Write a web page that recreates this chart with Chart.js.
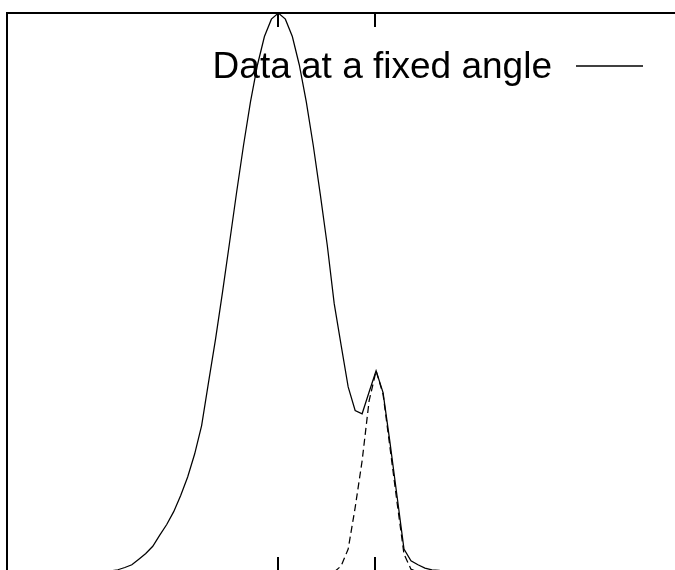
<!DOCTYPE html>
<html lang="en">
<head>
    <meta charset="UTF-8">
    <title>Data at a fixed angle</title>
    <script src="https://cdn.jsdelivr.net/npm/chart.js@4.4.0/dist/chart.umd.min.js"></script>
    <style>
        html, body {
            margin: 0;
            padding: 0;
            background: white;
            overflow: hidden;
        }

        .chart-box {
            position: relative;
            width: 700px;
            height: 590px;
        }
    </style>
</head>
<body>
    <div class="chart-box">
        <canvas id="scanChart"></canvas>
    </div>

    <script>
        // scan angle (deg)
        const angles = [
            21.28, 22.00, 22.72, 23.44, 24.16, 24.88, 25.60, 26.32, 27.04, 27.76,
            28.48, 29.20, 29.92, 30.64, 31.36, 32.08, 32.80, 33.52, 34.24, 34.96,
            35.68, 36.40, 37.12, 37.84, 38.56, 39.28, 40.00, 40.72, 41.44, 42.16,
            42.88, 43.60, 44.32, 45.04, 45.76, 46.48, 47.20, 47.92, 48.64, 49.36,
            50.08, 50.80, 51.52, 52.24, 52.96, 53.68, 54.40, 55.12, 55.84, 56.56,
            57.28, 58.00, 58.72
        ];

        // measured intensity (solid line)
        const fixedAngle = [
            0, 1, 2, 4, 8, 13, 23, 33, 46, 66,
            85, 108, 137, 170, 211, 262, 340, 417, 501, 589,
            678, 763, 841, 907, 958, 989, 1000, 989, 958, 907,
            841, 763, 676, 585, 480, 405, 331, 289, 283, 322,
            360, 321, 231, 136, 41, 20, 13, 7, 4, 3,
            1, 1, 0
        ];

        // second component (dashed line)
        const component = [
            null, null, null, null, null, null, null, null, null, null,
            null, null, null, null, null, null, null, null, null, null,
            null, null, null, null, null, null, null, null, null, null,
            null, null, null, null, 0, 11, 41, 115, 199, 306,
            360, 318, 222, 125, 32, 5, 0, null, null, null,
            null, null, null
        ];

        const tickAngles = [40, 50];
        const legendLabel = 'Data at a fixed angle';

        // frame, inward ticks and the key, drawn like the original plot
        const framePlugin = {
            id: 'frame',
            afterDatasetsDraw(chart) {
                const ctx = chart.ctx;
                const area = chart.chartArea;
                const xScale = chart.scales.x;

                ctx.save();
                ctx.strokeStyle = '#000';
                ctx.lineWidth = 2;
                ctx.strokeRect(area.left, area.top, area.right - area.left, area.bottom - area.top);

                tickAngles.forEach(a => {
                    const px = Math.round(xScale.getPixelForValue(a));
                    ctx.beginPath();
                    ctx.moveTo(px, area.top);
                    ctx.lineTo(px, area.top + 14);
                    ctx.moveTo(px, area.bottom);
                    ctx.lineTo(px, area.bottom - 15);
                    ctx.stroke();
                });

                ctx.fillStyle = '#000';
                ctx.font = '37px "Liberation Sans", Arial, sans-serif';
                ctx.textAlign = 'right';
                ctx.textBaseline = 'alphabetic';
                ctx.fillText(legendLabel, 552, 78);

                ctx.lineWidth = 1.5;
                ctx.beginPath();
                ctx.moveTo(576, 66);
                ctx.lineTo(643, 66);
                ctx.stroke();
                ctx.restore();
            }
        };

        const ctx = document.getElementById('scanChart').getContext('2d');
        new Chart(ctx, {
            type: 'line',
            data: {
                labels: angles,
                datasets: [
                    {
                        label: legendLabel,
                        data: fixedAngle,
                        borderColor: '#000',
                        borderWidth: 1.25,
                        tension: 0,
                        pointRadius: 0,
                        clip: false
                    },
                    {
                        label: 'Component',
                        data: component,
                        borderColor: '#000',
                        borderWidth: 1.25,
                        borderDash: [7, 4],
                        tension: 0,
                        pointRadius: 0,
                        clip: false
                    }
                ]
            },
            options: {
                responsive: true,
                maintainAspectRatio: false,
                animation: false,
                layout: {
                    padding: { left: 7, top: 13, right: 0, bottom: 18 }
                },
                scales: {
                    x: { type: 'linear', display: false, min: 12, max: 83.5 },
                    y: { display: false, min: 0, max: 1000 }
                },
                plugins: {
                    legend: { display: false },
                    tooltip: { enabled: false }
                }
            },
            plugins: [framePlugin]
        });
    </script>
</body>
</html>
